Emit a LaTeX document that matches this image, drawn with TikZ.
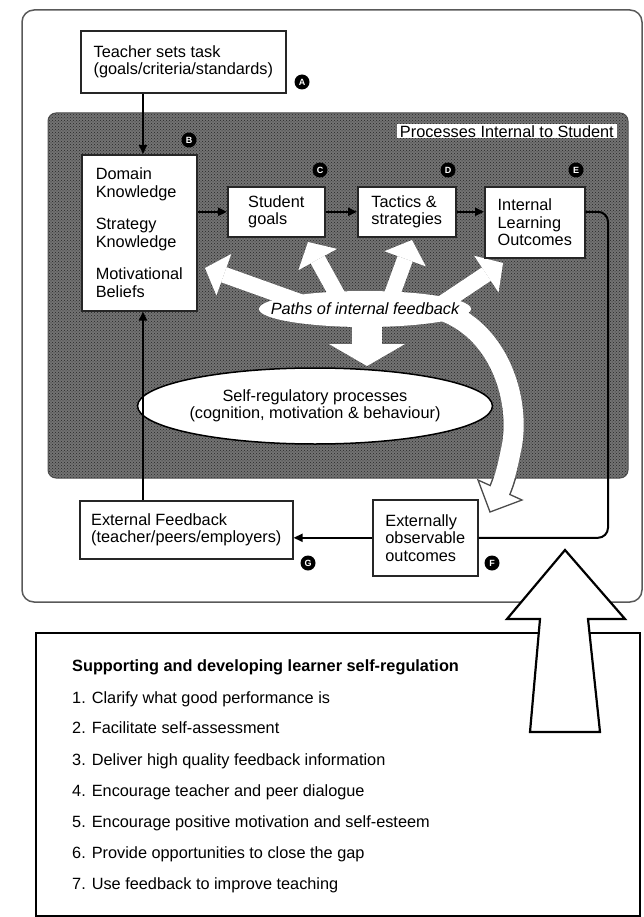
\documentclass[tikz,border=0pt]{standalone}
\usepackage{fontspec}
\setmainfont{Liberation Sans}
\usetikzlibrary{arrows.meta,shapes.geometric,patterns}
\begin{document}
\begin{tikzpicture}[x=1pt,y=-1pt,
  every node/.style={font=\fontsize{16.3}{17.5}\selectfont},
  box/.style={draw=black!85, line width=1.6, fill=white, align=left, inner sep=0pt, anchor=north west},
  tag/.style={circle, fill=black, minimum size=15pt, inner sep=0pt, text=white, font=\fontsize{9}{9}\bfseries\selectfont},
  conn/.style={line width=2, black},
  arr/.style={conn, -{Triangle[length=9pt,width=8pt]}},
  fb/.style={white, line width=16, -{Triangle[length=20pt,width=44pt,line width=0pt]}},
  listline/.style={anchor=base west, inner sep=0pt},
]
\useasboundingbox (0,0) rectangle (644,917);

% outer frame
\draw[black!65, line width=1.5, rounded corners=12pt] (22,10) rectangle (642,602);

% outline of the big curved feedback arrow (visible only below the grey area)
\draw[black!70, line width=23] (440,310) .. controls (500,330) and (520,400) .. (512,445) .. controls (508,465) and (505,478) .. (500,490);

% grey region
\fill[black!55, rounded corners=8pt] (48,113) rectangle (628,478);
\fill[pattern=crosshatch dots, pattern color=black!85, rounded corners=8pt] (48,113) rectangle (628,478);
\draw[black!70, line width=1, rounded corners=8pt] (48,113) rectangle (628,478);

% white paths of internal feedback
\fill[white] (365,309) ellipse [x radius=106, y radius=18];
\draw[fb] (300,302) -- (205,268);
\draw[fb] (340,300) -- (308,242);
\draw[fb] (390,300) -- (412,240);
\draw[fb] (440,305) -- (503,263);
\draw[white, line width=30, -{Triangle[length=22pt,width=76pt,line width=0pt]}] (367,310) -- (367,366);
\draw[black!70, line width=1.3, fill=white, line join=miter] (478,480) -- (490,512) -- (522,500) -- cycle;
\draw[white, line width=20] (440,310) .. controls (500,330) and (520,400) .. (512,445) .. controls (508,465) and (505,478) .. (500,490) -- (499,492.5);

% label
\node[fill=white, inner xsep=3pt, inner ysep=1pt, anchor=north east] (proc) at (617,124) {Processes Internal to Student};

% boxes
\node[box, minimum width=205pt, minimum height=62pt] (teacher) at (80,30) {Teacher sets task\\(goals/criteria/standards)};
\node[box, minimum width=115pt, minimum height=156pt] (domain) at (81,154) {Domain\\Knowledge\\[15pt]Strategy\\Knowledge\\[15pt]Motivational\\Beliefs};
\node[box, minimum width=97pt, minimum height=50pt] (goals) at (227,186) {Student\\goals};
\node[box, minimum width=98pt, minimum height=50pt] (tactics) at (357,186) {Tactics \&\\strategies};
\node[box, minimum width=100pt, minimum height=71pt] (ilo) at (484,186) {Internal\\Learning\\Outcomes};
\node[box, minimum width=213pt, minimum height=58pt] (extfb) at (79,500) {External Feedback\\(teacher/peers/employers)};
\node[box, minimum width=105pt, minimum height=76pt] (extobs) at (372,499) {Externally\\observable\\outcomes};

% ellipse
\node[ellipse, draw, line width=1.5, fill=white, minimum width=290pt, minimum height=76pt, inner sep=0pt, align=center] (srp) at (315,406) {Self-regulatory processes\\(cognition, motivation \& behaviour)};
\node[font=\fontsize{16.3}{17.5}\itshape\selectfont] (paths) at (365,309) {Paths of internal feedback};

% letter tags
\node[tag] (tA) at (302,82) {A};
\node[tag] (tB) at (189,140) {B};
\node[tag] (tC) at (320,170) {C};
\node[tag] (tD) at (448,170) {D};
\node[tag] (tE) at (576,170) {E};
\node[tag] (tG) at (308,563) {G};
\node[tag] (tF) at (492,563) {F};

% connectors
\coordinate (ax) at (143,0);
\coordinate (rt) at (608,0);
\draw[arr] (teacher.south -| ax) -- (domain.north -| ax);
\draw[arr] (extfb.north -| ax) -- (domain.south -| ax);
\draw[arr] (domain.east |- goals.west) -- (goals.west);
\draw[arr] (goals.east) -- (tactics.west);
\draw[arr] (tactics.east) -- (ilo.west |- tactics.east);
\draw[conn, rounded corners=10pt] (ilo.east |- tactics.east) -| (rt |- extobs.east) -- (extobs.east);
\draw[arr] (extobs.west) -- (extfb.east |- extobs.west);

% bottom box
\node[draw, line width=2.2, minimum width=604pt, minimum height=283pt, anchor=north west, inner sep=0pt] (support) at (35,632) {};
\node[listline] (s0) at (72,671) {\bfseries Supporting and developing learner self-regulation};
\node[listline] (s1) at (72,703) {1. Clarify what good performance is};
\node[listline] (s2) at (72,733) {2. Facilitate self-assessment};
\node[listline] (s3) at (72,765) {3. Deliver high quality feedback information};
\node[listline] (s4) at (72,796) {4. Encourage teacher and peer dialogue};
\node[listline] (s5) at (72,827) {5. Encourage positive motivation and self-esteem};
\node[listline] (s6) at (72,858) {6. Provide opportunities to close the gap};
\node[listline] (s7) at (72,889) {7. Use feedback to improve teaching};

% big up arrow
\draw[line width=2.2, fill=white, line join=miter] (565,550) -- (625,619) -- (588,619) -- (600,732) -- (530,732) -- (540,619) -- (507,619) -- cycle;
\end{tikzpicture}
\end{document}
